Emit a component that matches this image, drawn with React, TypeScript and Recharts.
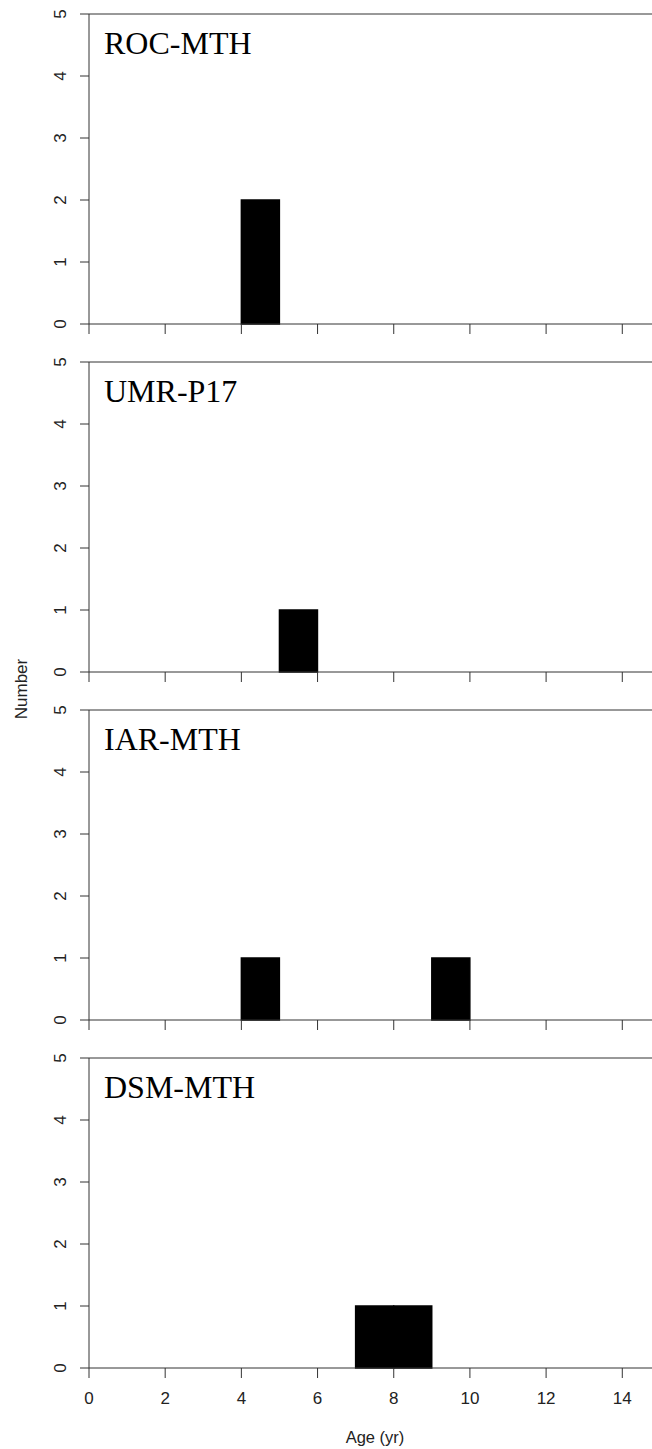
import React from "react";
import { BarChart, Bar, XAxis, YAxis, ReferenceLine } from "recharts";

const binCenters = [0.5, 1.5, 2.5, 3.5, 4.5, 5.5, 6.5, 7.5, 8.5, 9.5, 10.5, 11.5, 12.5, 13.5];
const rocMth = [0, 0, 0, 0, 2, 0, 0, 0, 0, 0, 0, 0, 0, 0];
const umrP17 = [0, 0, 0, 0, 0, 1, 0, 0, 0, 0, 0, 0, 0, 0];
const iarMth = [0, 0, 0, 0, 1, 0, 0, 0, 0, 1, 0, 0, 0, 0];
const dsmMth = [0, 0, 0, 0, 0, 0, 0, 1, 1, 0, 0, 0, 0, 0];
const siteNames = ["ROC-MTH", "UMR-P17", "IAR-MTH", "DSM-MTH"];
const xTicks = [0, 2, 4, 6, 8, 10, 12, 14];
const yTicks = [0, 1, 2, 3, 4, 5];
const xDomain = [0, 14.78];
const yDomain = [0, 5];
const xTitle = "Age (yr)";
const yTitle = "Number";

const series = [rocMth, umrP17, iarMth, dsmMth];

const AXIS = "#333";
const SANS = "'Liberation Sans', Arial, sans-serif";
const SERIF = "'Liberation Serif', 'Times New Roman', serif";
const PANEL_STEP = 348;

const YTick = (props: any) => {
  const { x, y, payload } = props;
  const bx = x - 12;
  return (
    <text
      x={bx}
      y={y}
      transform={`rotate(-90 ${bx} ${y})`}
      textAnchor="middle"
      fontFamily={SANS}
      fontSize={17}
      fill="#222"
    >
      {payload.value}
    </text>
  );
};

const makeXTick = (show: boolean) => (props: any) => {
  const { x, y, payload } = props;
  if (!show) return <g />;
  return (
    <text x={x} y={y + 24} textAnchor="middle" fontFamily={SANS} fontSize={17} fill="#222">
      {payload.value}
    </text>
  );
};

function Panel({ values, index }: { values: number[]; index: number }) {
  const data = binCenters.map((c, i) => ({ x: c, n: values[i] }));
  const last = index === series.length - 1;
  return (
    <div style={{ position: "absolute", left: 0, top: 4 + PANEL_STEP * index }}>
      <BarChart
        width={652}
        height={360}
        data={data}
        margin={{ top: 10, right: 0, bottom: 0, left: 59 }}
        barCategoryGap={0}
        barGap={0}
      >
        <XAxis
          dataKey="x"
          type="number"
          domain={xDomain}
          allowDataOverflow
          ticks={xTicks}
          interval={0}
          height={40}
          tickSize={10}
          stroke={AXIS}
          tickLine={{ stroke: AXIS }}
          axisLine={{ stroke: AXIS }}
          tick={makeXTick(last)}
        />
        <YAxis
          type="number"
          domain={yDomain}
          ticks={yTicks}
          interval={0}
          width={30}
          tickSize={9}
          stroke={AXIS}
          tickLine={{ stroke: AXIS }}
          axisLine={{ stroke: AXIS }}
          tick={<YTick />}
        />
        <ReferenceLine y={5} stroke={AXIS} ifOverflow="visible" />
        <Bar dataKey="n" fill="#000" stroke="#000" strokeWidth={1.5} isAnimationActive={false} />
      </BarChart>
    </div>
  );
}

export default function App() {
  return (
    <div style={{ position: "absolute", left: 0, top: 0, width: 652, height: 1449, background: "#fff" }}>
      {series.map((v, i) => (
        <Panel key={i} values={v} index={i} />
      ))}
      <svg
        width={652}
        height={1449}
        style={{ position: "absolute", left: 0, top: 0, pointerEvents: "none" }}
      >
        {siteNames.map((name, i) => (
          <text key={name} x={104} y={54 + PANEL_STEP * i} fontFamily={SERIF} fontSize={32} fill="#000">
            {name}
          </text>
        ))}
        <text
          x={27}
          y={689}
          transform="rotate(-90 27 689)"
          textAnchor="middle"
          fontFamily={SANS}
          fontSize={17}
          fill="#222"
        >
          {yTitle}
        </text>
        <text x={375} y={1443} textAnchor="middle" fontFamily={SANS} fontSize={16.5} fill="#222">
          {xTitle}
        </text>
      </svg>
    </div>
  );
}
